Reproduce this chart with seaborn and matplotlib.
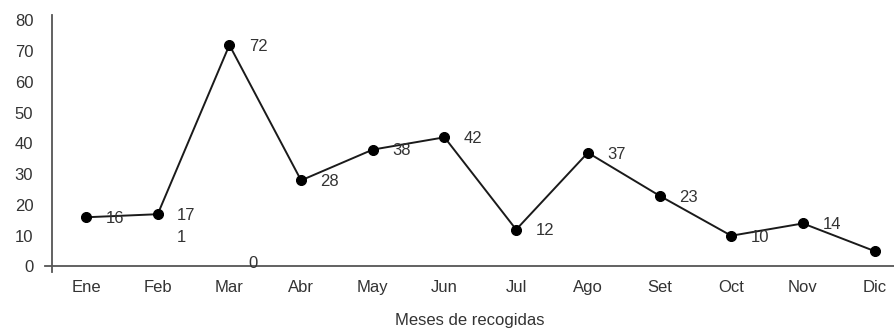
import matplotlib
matplotlib.use("Agg")
import matplotlib.pyplot as plt
import seaborn as sns
import pandas as pd

# Monthly collection counts
meses = ["Ene", "Feb", "Mar", "Abr", "May", "Jun", "Jul", "Ago", "Set", "Oct", "Nov", "Dic"]
recogidas = [16, 17, 72, 28, 38, 42, 12, 37, 23, 10, 14, 5]

# Secondary labels printed near Feb and Mar
etiquetas_extra = {"Feb": 1, "Mar": 0}
y_ticks = [0, 10, 20, 30, 40, 50, 60, 70, 80]
x_title = "Meses de recogidas"

sns.set_theme(style="white")
plt.rcParams["font.family"] = ["Liberation Sans", "DejaVu Sans"]

text_color = "#333333"
axis_color = "#555555"
fs = 12

df = pd.DataFrame({"mes": meses, "valor": recogidas})

fig = plt.figure(figsize=(8.94, 3.28), dpi=100)
ax = fig.add_axes([45 / 894, 56 / 328, 849 / 894, 257 / 328])

sns.lineplot(data=df, x="mes", y="valor", sort=False, ax=ax,
             color="#1a1a1a", linewidth=1.4, marker="o", markersize=7.2,
             markeredgecolor="#000000", markerfacecolor="#000000")

ax.set_xlim(-0.572, 11.27)
ax.set_ylim(-1.79, 81.76)

# Value labels to the right of each point
for i, v in enumerate(recogidas):
    ax.annotate(str(v), (i, v), xytext=(14, -1), textcoords="offset points",
                ha="left", va="center", fontsize=fs, color=text_color)

# Secondary labels
extra_offsets = {"Feb": 19, "Mar": 2.5}
for mes, v in etiquetas_extra.items():
    i = meses.index(mes)
    ax.annotate(str(v), (i, v), xytext=(14, extra_offsets[mes]), textcoords="offset points",
                ha="left", va="center", fontsize=fs, color=text_color)

# Axes styling
for side in ["top", "right"]:
    ax.spines[side].set_visible(False)
ax.spines["left"].set_position(("data", -0.474))
ax.spines["bottom"].set_position(("data", 0))
for side in ["left", "bottom"]:
    ax.spines[side].set_color(axis_color)
    ax.spines[side].set_linewidth(1.3)

ax.set_yticks(y_ticks)
ax.set_yticklabels([str(t) for t in y_ticks])
ax.tick_params(axis="y", length=0, pad=13.5, labelsize=fs, labelcolor=text_color)
ax.tick_params(axis="x", length=0, pad=10, labelsize=fs, labelcolor=text_color)
ax.set_xlabel("")
ax.set_ylabel("")
ax.grid(False)

fig.text(469.5 / 894, 1 - 321 / 328, x_title, ha="center", va="center",
         fontsize=fs, color=text_color)

fig.savefig("out.png", dpi=100, facecolor="white")
